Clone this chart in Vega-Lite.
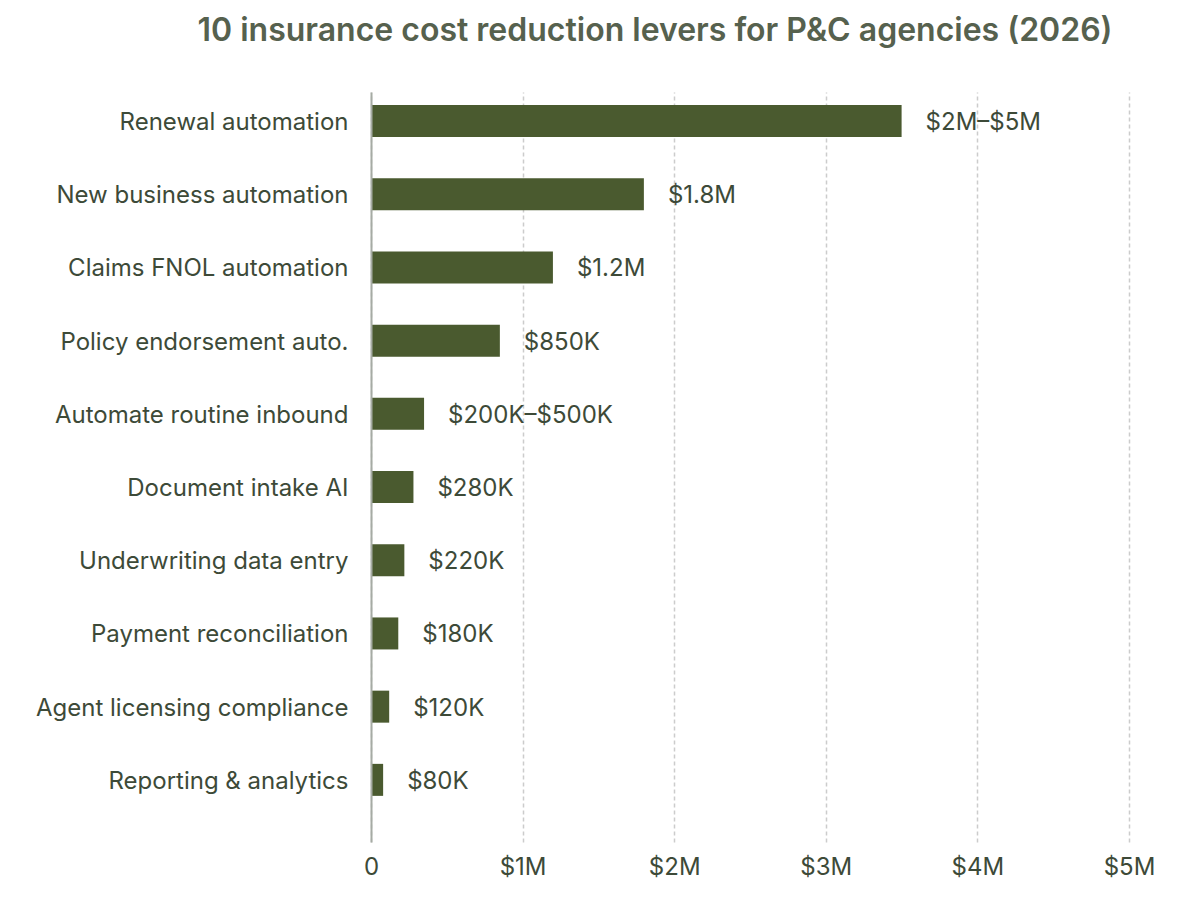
{
  "$schema": "https://vega.github.io/schema/vega-lite/v6.json",
  "width": 758,
  "height": 750,
  "autosize": {"type": "none"},
  "padding": {"left": 371, "top": 92, "right": 59, "bottom": 76},
  "background": "white",
  "title": {
    "text": "10 insurance cost reduction levers for P&C agencies (2026)",
    "font": "Inter",
    "fontSize": 32,
    "fontWeight": 600,
    "color": "#56614e",
    "anchor": "middle",
    "frame": "group",
    "dx": -95,
    "offset": 44
  },
  "config": {
    "view": {"stroke": null},
    "font": "Inter"
  },
  "data": {
    "values": [
      {"lever": "Renewal automation", "value": 3500000, "label": "$2M–$5M"},
      {"lever": "New business automation", "value": 1800000, "label": "$1.8M"},
      {"lever": "Claims FNOL automation", "value": 1200000, "label": "$1.2M"},
      {"lever": "Policy endorsement auto.", "value": 850000, "label": "$850K"},
      {"lever": "Automate routine inbound", "value": 350000, "label": "$200K–$500K"},
      {"lever": "Document intake AI", "value": 280000, "label": "$280K"},
      {"lever": "Underwriting data entry", "value": 220000, "label": "$220K"},
      {"lever": "Payment reconciliation", "value": 180000, "label": "$180K"},
      {"lever": "Agent licensing compliance", "value": 120000, "label": "$120K"},
      {"lever": "Reporting & analytics", "value": 80000, "label": "$80K"}
    ]
  },
  "encoding": {
    "y": {
      "field": "lever",
      "type": "nominal",
      "sort": null,
      "scale": {"paddingInner": 0.5628, "paddingOuter": 0.404, "align": 0.22},
      "axis": {
        "title": null,
        "ticks": false,
        "domain": true,
        "domainColor": "#a6aba4",
        "domainWidth": 2,
        "labelFont": "Inter",
        "labelFontSize": 24,
        "labelColor": "#3d4a38",
        "labelPadding": 23,
        "labelLimit": 0,
        "labelOffset": 2,
        "grid": false,
        "zindex": 2
      }
    },
    "x": {
      "field": "value",
      "type": "quantitative",
      "scale": {"domain": [0, 5000000], "nice": false},
      "axis": {
        "title": null,
        "values": [0, 1000000, 2000000, 3000000, 4000000, 5000000],
        "labelExpr": "datum.value == 0 ? '0' : '$' + (datum.value / 1000000) + 'M'",
        "labelFlush": false,
        "domain": false,
        "ticks": false,
        "grid": true,
        "gridColor": "#cccccc",
        "gridWidth": 1.5,
        "gridDash": [4, 3],
        "labelFont": "Inter",
        "labelFontSize": 24,
        "labelColor": "#3d4a38",
        "labelPadding": 13
      }
    }
  },
  "layer": [
    {
      "mark": {"type": "bar", "color": "#4a5a2f"}
    },
    {
      "mark": {
        "type": "text",
        "align": "left",
        "baseline": "middle",
        "dx": 24,
        "dy": 2,
        "font": "Inter",
        "fontSize": 24,
        "color": "#3d4a38"
      },
      "encoding": {"text": {"field": "label"}}
    }
  ]
}
